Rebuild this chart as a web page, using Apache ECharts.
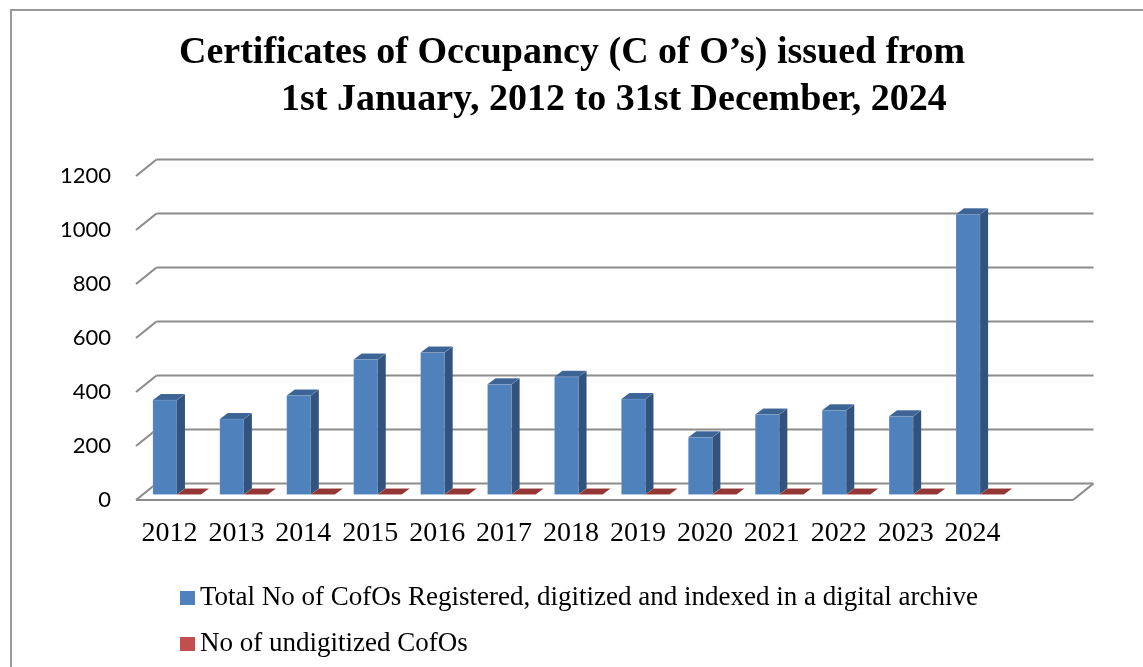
<!DOCTYPE html>
<html>
<head>
<meta charset="utf-8">
<script src="https://cdn.jsdelivr.net/npm/echarts@6/dist/echarts.min.js"></script>
<style>
html,body{margin:0;padding:0;background:#fff;}
#chart{width:1143px;height:667px;}
</style>
</head>
<body>
<div id="chart"></div>
<script>
// ---- data ----
var years = ['2012','2013','2014','2015','2016','2017','2018','2019','2020','2021','2022','2023','2024'];
var totalRegistered = [350, 280, 367, 500, 526, 408, 436, 354, 212, 296, 312, 290, 1038];
var undigitized = [0, 0, 0, 0, 0, 0, 0, 0, 0, 0, 0, 0, 0];
var yTicks = [0, 200, 400, 600, 800, 1000, 1200];
var seriesNames = ['Total No of CofOs Registered, digitized and indexed in a digital archive', 'No of undigitized CofOs'];

// ---- 3D look parameters ----
var WALL_DX = 20.5, WALL_DY = -16.5;   // depth of the floor / back wall
var BAR_OX = 7.5, BAR_OY = -5.5;       // bar front face offset from front plane
var BAR_DX = 8, BAR_DY = -6;           // bar depth
var BAR_FRAC = 0.36;

var axisCats = years.concat(['']);

function frameItem(params, api) {
  var cs = params.coordSys;
  var v = api.value(0);
  var y = api.coord([0, v])[1];
  var x0 = cs.x, x1 = cs.x + cs.width;
  var style = {stroke: '#8c8c8c', lineWidth: 2.2, fill: null};
  var children = [
    {type: 'line', shape: {x1: x0 + WALL_DX, y1: y + WALL_DY, x2: x1 + WALL_DX, y2: y + WALL_DY}, style: style},
    {type: 'line', shape: {x1: x0, y1: y, x2: x0 + WALL_DX, y2: y + WALL_DY}, style: style}
  ];
  if (v === 0) {
    children.push({type: 'line', shape: {x1: x0, y1: y, x2: x1, y2: y}, style: style});
    children.push({type: 'line', shape: {x1: x1, y1: y, x2: x1 + WALL_DX, y2: y + WALL_DY}, style: style});
  }
  return {type: 'group', children: children};
}

function makeBarRenderer(side, front, sideCol, topCol) {
  return function (params, api) {
    var idx = api.value(0), val = api.value(1);
    var c = api.coord([idx, val]);
    var b = api.coord([idx, 0]);
    var band = api.size([1, 0])[0];
    var w = band * BAR_FRAC;
    var xl = (side < 0 ? c[0] - w : c[0]) + BAR_OX;
    var xr = xl + w;
    var top = c[1] + BAR_OY, bot = b[1] + BAR_OY;
    var children = [];
    if (bot - top > 0.5) {
      children.push({type: 'rect', shape: {x: xl, y: top, width: w, height: bot - top},
        style: {fill: front, stroke: 'rgba(255,255,255,0.25)', lineWidth: 0.6}});
      children.push({type: 'polygon', shape: {points: [[xr, top], [xr + BAR_DX, top + BAR_DY], [xr + BAR_DX, bot + BAR_DY], [xr, bot]]},
        style: {fill: sideCol}});
    }
    children.push({type: 'polygon', shape: {points: [[xl, top], [xl + BAR_DX, top + BAR_DY], [xr + BAR_DX, top + BAR_DY], [xr, top]]},
      style: {fill: topCol, stroke: 'rgba(255,255,255,0.2)', lineWidth: 0.5}});
    return {type: 'group', children: children};
  };
}

var chart = echarts.init(document.getElementById('chart'), null, {renderer: 'canvas'});
chart.setOption({
  backgroundColor: '#ffffff',
  animation: false,
  title: [
    {text: 'Certificates of Occupancy (C of O\u2019s) issued from', left: 174, top: 29,
     textStyle: {fontFamily: 'Liberation Serif', fontWeight: 'bold', fontSize: 38, color: '#000'}},
    {text: '1st January, 2012 to 31st December, 2024', left: 276, top: 76,
     textStyle: {fontFamily: 'Liberation Serif', fontWeight: 'bold', fontSize: 38, color: '#000'}}
  ],
  graphic: [
    {type: 'rect', shape: {x: 11, y: 10, width: 1200, height: 700}, style: {fill: null, stroke: '#9a9a9a', lineWidth: 2}, silent: true}
  ],
  legend: {
    orient: 'vertical', left: 175, top: 578,
    data: [{name: seriesNames[0], icon: 'rect'}, {name: seriesNames[1], icon: 'rect'}],
    itemWidth: 15, itemHeight: 14, itemGap: 16,
    textStyle: {fontFamily: 'Liberation Serif', fontSize: 27, color: '#000', lineHeight: 30}
  },
  grid: {left: 136, right: 70, top: 176, bottom: 167, containLabel: false},
  xAxis: {
    type: 'category', data: axisCats,
    axisLine: {show: false}, axisTick: {show: false}, splitLine: {show: false},
    axisLabel: {fontFamily: 'Liberation Serif', fontSize: 28, color: '#000', margin: 20, interval: 0}
  },
  yAxis: {
    type: 'value', min: 0, max: 1200, interval: 200,
    axisLine: {show: false}, axisTick: {show: false}, splitLine: {show: false},
    axisLabel: {fontFamily: 'Lato', fontSize: 22, color: '#000', margin: 25,
      formatter: function (v) { return String(v); }}
  },
  series: [
    {name: 'frame', type: 'custom', renderItem: frameItem, data: yTicks.map(function (v) { return [v]; }),
     encode: {y: 0}, silent: true, z: 1},
    {name: seriesNames[0], type: 'custom', itemStyle: {color: '#4F81BD'},
     renderItem: makeBarRenderer(-1, '#4F81BD', '#31537D', '#3C6496'),
     data: totalRegistered.map(function (v, i) { return [i, v]; }), encode: {x: 0, y: 1}, z: 3},
    {name: seriesNames[1], type: 'custom', itemStyle: {color: '#C0504D'},
     renderItem: makeBarRenderer(1, '#C0504D', '#7E2F2D', '#943634'),
     data: undigitized.map(function (v, i) { return [i, v]; }), encode: {x: 0, y: 1}, z: 4}
  ]
});
</script>
</body>
</html>
